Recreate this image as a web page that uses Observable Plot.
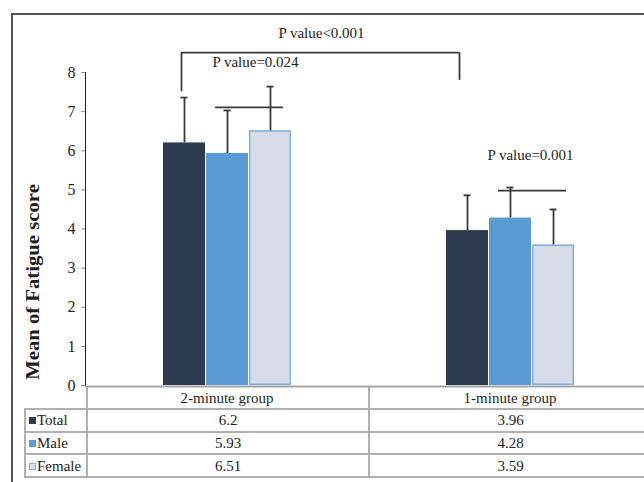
<!DOCTYPE html>
<html>
<head>
<meta charset="utf-8">
<script src="https://cdn.jsdelivr.net/npm/d3@7"></script>
<script src="https://cdn.jsdelivr.net/npm/@observablehq/plot@0.6"></script>
<style>
  body { margin: 0; background: #fff; font-family: "Liberation Serif", "Times New Roman", serif; }
  #wrap { position: relative; width: 644px; height: 482px; overflow: hidden; background: #fff; }
  #frame { position: absolute; left: 11px; top: 13px; width: 720px; height: 520px;
           border-left: 2px solid #555; border-top: 2px solid #555; }
  #tbl { position: absolute; left: 24px; top: 386px; border-collapse: collapse; table-layout: fixed;
         font-size: 15px; color: #1e1e1e; }
  #tbl td { border: 2px solid #b0b0b0; padding: 0; text-align: center; line-height: 18px; }
  #tbl tr.head td { height: 22px; border-top: none; }
  #tbl tr.head td.blank { border-left: none; }
  #tbl tr.body td { height: 20.7px; }
  #tbl td.leg { text-align: left; padding-left: 3px; white-space: nowrap; }
  .sw { display: inline-block; width: 7px; height: 7px; margin-right: 1px; vertical-align: 1px; box-sizing: border-box; }
  #chart { position: absolute; left: 0; top: 0; width: 660px; }
  #chart svg { max-width: none !important; }
  #ylab { position: absolute; left: 33px; top: 282px; transform: translate(-50%, -50%) rotate(-90deg) scaleX(1.15);
          font-weight: bold; font-size: 18px; white-space: nowrap; color: #1e1e1e; }
  svg g[aria-label="y-axis tick"] path, svg g[aria-label="y-axis"] line, svg g[aria-label="y-axis"] path { stroke: #8f8f8f; }
  svg g[aria-label="y-axis tick label"] text { font-size: 16px; }
</style>
</head>
<body>
<div id="wrap">
  <div id="frame"></div>
  <table id="tbl"></table>
  <div id="chart"></div>
  <div id="ylab"></div>
</div>
<script>
// ---- data ----
const groups = ["2-minute group", "1-minute group"];
const series = ["Total", "Male", "Female"];
const totalMeans = [6.2, 3.96];
const maleMeans = [5.93, 4.28];
const femaleMeans = [6.51, 3.59];
const totalSD = [1.16, 0.90];
const maleSD = [1.10, 0.78];
const femaleSD = [1.13, 0.91];
const yTicks = [0, 1, 2, 3, 4, 5, 6, 7, 8];
const yLabel = "Mean of Fatigue score";
const pairLabels = ["P value=0.024", "P value=0.001"];
const pairLineY = [7.11, 4.98];
const pairLabelY = [8.26, 5.88];
const overallLabel = "P value<0.001";
const overallBracketY = 8.51;
const overallLegBottom = [7.51, 7.80];
const overallLabelY = 9.0;
const fills = ["#2e3a4e", "#5b9bd5", "#d7dde8"];
const femaleStroke = "#7fb0e0";

// ---- build tables for the library ----
const means = [totalMeans, maleMeans, femaleMeans];
const sds = [totalSD, maleSD, femaleSD];
const rows = groups.flatMap((g, i) => series.map((s, j) => ({group: g, series: s, value: means[j][i], sd: sds[j][i]})));
const pairs = groups.map((g, i) => ({group: g, from: "Male", to: "Female", y: pairLineY[i], ly: pairLabelY[i], label: pairLabels[i]}));
const legs = groups.map((g, i) => ({group: g, at: "Total", bottom: overallLegBottom[i], top: overallBracketY}));

const facetW = 283;  // pixel width of one facet (660 - 85 - 9) / 2
const bw = 42.4;     // approximate band width, for bracket insets
const legShiftL = -3, legShiftR = -8;

const ink = "#3a3a3a";
const plot = Plot.plot({
  width: 660,
  height: 410,
  marginLeft: 85,
  marginRight: 9,
  marginTop: 72,
  marginBottom: 25,
  style: {fontFamily: "'Liberation Serif', 'Times New Roman', serif", fontSize: "15px", color: "#1e1e1e", background: "transparent", overflow: "visible"},
  fx: {domain: groups, padding: 0, axis: "bottom", tickSize: 0, tickPadding: 7, label: null},
  x: {domain: series, paddingInner: 0.03, paddingOuter: 1.75, axis: null},
  y: {domain: [0, 8], ticks: yTicks, tickSize: 4, tickPadding: 6, line: true, label: null},
  color: {domain: series, range: fills},
  marks: [
    Plot.barY(rows, {fx: "group", x: "series", y: "value", fill: "series"}),
    Plot.barY(rows.filter(d => d.series === "Female"), {fx: "group", x: "series", y: "value", fill: "none", stroke: femaleStroke, strokeWidth: 1.5, inset: 0.75}),
    Plot.ruleY([0], {stroke: "#a3a3a3", strokeWidth: 2, dy: 1}),
    Plot.ruleX(rows, {fx: "group", x: "series", y1: "value", y2: d => d.value + d.sd, stroke: ink, strokeWidth: 1.8}),
    Plot.tickY(rows, {fx: "group", x: "series", y: d => d.value + d.sd, stroke: ink, strokeWidth: 1.8, inset: 17.5}),
    Plot.ruleY(pairs, {fx: "group", x1: "from", x2: "to", y: "y", stroke: ink, strokeWidth: 1.8, insetLeft: 9, insetRight: 8}),
    Plot.text(pairs.slice(0, 1), {fx: "group", x: "from", y: "ly", text: "label", dx: 28, fontSize: 15, fill: "#1e1e1e"}),
    Plot.text(pairs.slice(1), {fx: "group", x: "from", y: "ly", text: "label", dx: 20, fontSize: 15, fill: "#1e1e1e"}),
    Plot.ruleX(legs.slice(0, 1), {fx: "group", x: "at", y1: "bottom", y2: "top", stroke: ink, strokeWidth: 1.8, dx: legShiftL}),
    Plot.ruleX(legs.slice(1), {fx: "group", x: "at", y1: "bottom", y2: "top", stroke: ink, strokeWidth: 1.8, dx: legShiftR}),
    // horizontal of the overall bracket: from Total (first group) across to Total (second group)
    Plot.ruleY(legs.slice(0, 1), {fx: "group", x1: "at", x2: "at", y: "top", stroke: ink, strokeWidth: 1.8,
      insetLeft: bw / 2 + legShiftL, insetRight: -(facetW - bw / 2 + legShiftR)}),
    Plot.text([{group: groups[0], at: "Total", y: overallLabelY, label: overallLabel}], {fx: "group", x: "at", y: "y", text: "label", dx: 137, fontSize: 15, fill: "#1e1e1e"})
  ]
});
document.getElementById("chart").appendChild(plot);
document.getElementById("ylab").textContent = yLabel;

// ---- data table under the chart ----
const tbl = document.getElementById("tbl");
const colW = [62, 282, 283];
const cg = document.createElement("colgroup");
colW.forEach(w => { const c = document.createElement("col"); c.style.width = w + "px"; cg.appendChild(c); });
tbl.appendChild(cg);
tbl.style.width = colW.reduce((a, b) => a + b, 0) + "px";
const head = document.createElement("tr");
head.className = "head";
const blank = document.createElement("td"); blank.className = "blank"; head.appendChild(blank);
groups.forEach(() => { head.appendChild(document.createElement("td")); });
tbl.appendChild(head);
series.forEach((s, j) => {
  const tr = document.createElement("tr");
  tr.className = "body";
  const td = document.createElement("td");
  td.className = "leg";
  const sw = document.createElement("span");
  sw.className = "sw";
  sw.style.background = fills[j];
  if (s === "Female") sw.style.border = "1px solid " + femaleStroke;
  td.appendChild(sw);
  td.appendChild(document.createTextNode(s));
  tr.appendChild(td);
  groups.forEach((g, i) => {
    const c = document.createElement("td");
    c.textContent = String(means[j][i]);
    tr.appendChild(c);
  });
  tbl.appendChild(tr);
});
</script>
</body>
</html>
